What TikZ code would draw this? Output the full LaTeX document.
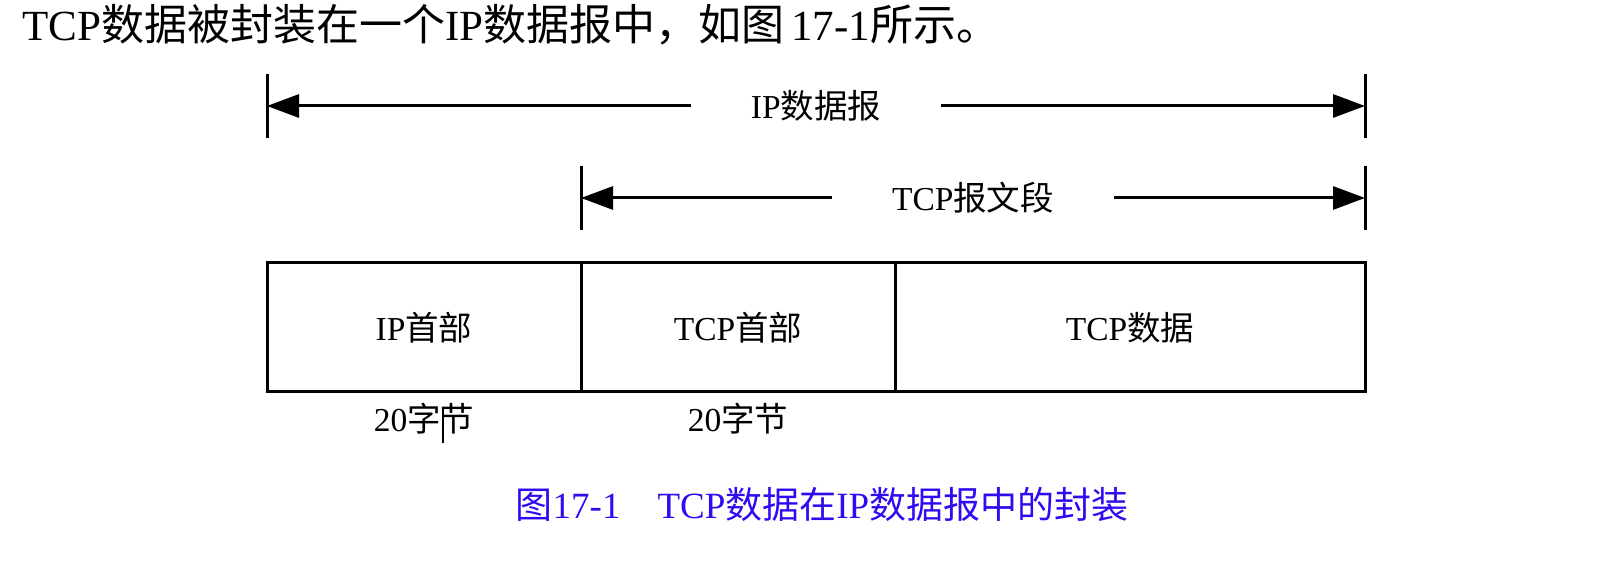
\documentclass[tikz,border=0pt]{standalone}
\usepackage{fontspec}
\setmainfont{Liberation Serif}
\newfontfamily\cjk{Noto Sans CJK SC}
\usetikzlibrary{arrows.meta,positioning,calc}
\definecolor{capblue}{RGB}{50,10,240}

\begin{document}
\begin{tikzpicture}[x=1pt, y=1pt, >={Triangle[length=32pt,width=23pt]},
    seg/.style={draw, line width=3pt, minimum height=129pt, inner sep=0pt, outer sep=0pt, font=\fontsize{33.5}{40}\selectfont},
    lbl/.style={inner sep=0pt, font=\fontsize{33.5}{40}\selectfont},
    span/.style={->, line width=3pt},
    tick/.style={line width=3pt}]
    \useasboundingbox (0,0) rectangle (1606,572);

    % Einleitung
    \node[anchor=west, inner sep=0pt, font=\fontsize{43}{50}\selectfont] (intro) at (22,547)
        {TCP{\cjk 数据被封装在一个}IP{\cjk 数据报中，如图}\,17-1{\cjk 所示。}};

    % Felder
    \node[seg, minimum width=314pt] (iphdr) at (424,244.5) {IP{\cjk 首部}};
    \node[seg, minimum width=314pt, right=0pt of iphdr] (tcphdr) {TCP{\cjk 首部}};
    \node[seg, minimum width=470pt, right=0pt of tcphdr] (tcpdata) {TCP{\cjk 数据}};

    % Laengen
    \node[lbl, below=11pt of iphdr] (iplen) {20{\cjk 字节}};
    \node[lbl, below=11pt of tcphdr] (tcplen) {20{\cjk 字节}};
    \draw[line width=1.5pt] (443,164) -- (443,129);

    % IP-Datagramm
    \coordinate (ipL) at (iphdr.north west |- 0,466);
    \coordinate (ipR) at (tcpdata.north east |- 0,466);
    \node[lbl, inner xsep=60pt] (iplbl) at ($(ipL)!0.5!(ipR)$) {IP{\cjk 数据报}};
    \draw[span] (iplbl) -- (ipL);
    \draw[span] (iplbl) -- (ipR);
    \draw[tick] ([yshift=-32pt]ipL) -- ([yshift=32pt]ipL);
    \draw[tick] ([yshift=-32pt]ipR) -- ([yshift=32pt]ipR);

    % TCP-Segment
    \coordinate (tcpL) at (tcphdr.north west |- 0,374);
    \coordinate (tcpR) at (tcpdata.north east |- 0,374);
    \node[lbl, inner xsep=60pt] (tcplbl) at ($(tcpL)!0.5!(tcpR)$) {TCP{\cjk 报文段}};
    \draw[span] (tcplbl) -- (tcpL);
    \draw[span] (tcplbl) -- (tcpR);
    \draw[tick] ([yshift=-32pt]tcpL) -- ([yshift=32pt]tcpL);
    \draw[tick] ([yshift=-32pt]tcpR) -- ([yshift=32pt]tcpR);

    % Bildunterschrift
    \node[inner sep=0pt, text=capblue, font=\fontsize{37}{44}\selectfont] (caption) at (822,68)
        {{\cjk 图}17-1\hspace{1em}TCP{\cjk 数据在}IP{\cjk 数据报中的封装}};
\end{tikzpicture}
\end{document}
